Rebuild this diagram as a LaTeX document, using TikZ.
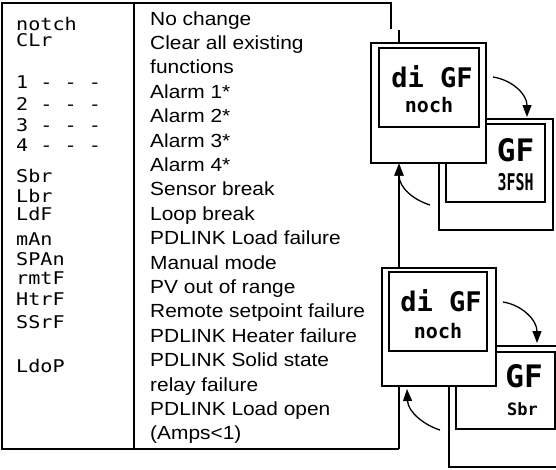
\documentclass[tikz,border=0pt]{standalone}
\usepackage{fontspec}
\setmainfont{Liberation Sans}
\newfontfamily\segfont{DejaVu Sans Mono}
\usetikzlibrary{arrows.meta}

\tikzset{
  frame/.style={line width=1.8pt},
  link/.style={line width=1.8pt},
  curvearrow/.style={line width=1.3pt},
  devbox/.style={draw, line width=1.2pt, fill=white, inner sep=0pt},
  screen/.style={draw, line width=1.2pt, inner sep=0pt},
  descr/.style={anchor=base west, inner sep=0pt, xscale=1.1, font=\fontsize{19}{22}\selectfont},
  code/.style={anchor=base west, inner sep=0pt, xscale=1.15, font=\segfont\fontsize{17.5}{20}\selectfont},
  segbig/.style={anchor=base, inner sep=0pt, font=\segfont\bfseries\fontsize{27}{30}\selectfont},
  segsub/.style={anchor=base, inner sep=0pt, font=\segfont\bfseries\fontsize{20}{24}\selectfont},
}

\begin{document}
\begin{tikzpicture}[x=1pt, y=-1pt, >={Triangle[length=12pt,width=9pt]}]
    \useasboundingbox (0,0) rectangle (556,469);
    \clip (0,0) rectangle (556,469);

    % Tabla de funciones
    \coordinate (topR) at (391,29);
    \coordinate (botR) at (399,449);
    \draw[frame] (topR) -- (391,3) -- (2,3) -- (2,449) -- (botR);
    \draw[frame] (134,3) -- (134,449);

    % Codigos del display
    \foreach \yy/\txt [count=\i] in {30/notch, 46/CLr, 88/1 - - -, 110/2 - - -, 131/3 - - -, 151/4 - - -,
        182/Sbr, 202/Lbr, 220/LdF, 245/mAn, 265/SPAn, 284/rmtF, 305/HtrF, 328/SSrF, 372/LdoP}
        \node[code] (c\i) at (16,\yy) {\txt};

    % Descripciones
    \foreach \txt [count=\i] in {No change, Clear all existing, functions, Alarm 1*, Alarm 2*, Alarm 3*,
        Alarm 4*, Sensor break, Loop break, PDLINK Load failure, Manual mode, PV out of range,
        Remote setpoint failure, PDLINK Heater failure, PDLINK Solid state, relay failure,
        PDLINK Load open, {(Amps<1)}}
        \node[descr] (d\i) at (150,{25+(\i-1)*24.4}) {\txt};

    % Display de fondo (arriba)
    \node[devbox, minimum width=114pt, minimum height=111pt] (devAb) at (496,174.5) {};
    \node[screen, minimum width=99pt, minimum height=78pt] (scrAb) at (495.5,163) {};
    \node[segbig, font=\segfont\bfseries\fontsize{31}{34}\selectfont] (tAb1) at ([xshift=20pt,yshift=2pt]scrAb.center) {GF};
    \node[segsub, font=\segfont\bfseries\fontsize{23}{26}\selectfont, xscale=0.65] (tAb2) at ([xshift=20pt,yshift=-27pt]scrAb.center) {3FSH};

    % Display frontal (arriba)
    \node[devbox, minimum width=115pt, minimum height=120pt] (devA) at (428.5,103) {};
    \node[screen, minimum width=100pt, minimum height=79pt] (scrA) at (429,87.5) {};
    \node[segbig] (tA1) at ([xshift=3pt]scrA.center) {di GF};
    \node[segsub] (tA2) at ([yshift=-25pt]scrA.center) {noch};

    % Display de fondo (abajo)
    \node[devbox, minimum width=116pt, minimum height=121pt] (devBb) at (507,406.5) {};
    \node[screen, minimum width=99pt, minimum height=77pt] (scrBb) at (505.5,390.5) {};
    \node[segbig, font=\segfont\bfseries\fontsize{31}{34}\selectfont] (tBb1) at ([xshift=18.5pt,yshift=3.5pt]scrBb.center) {GF};
    \node[segsub, font=\segfont\bfseries\fontsize{17}{20}\selectfont] (tBb2) at ([xshift=17pt,yshift=-24.5pt]scrBb.center) {Sbr};

    % Display frontal (abajo)
    \node[devbox, minimum width=114pt, minimum height=118pt] (devB) at (439,327) {};
    \node[screen, minimum width=98pt, minimum height=79pt] (scrB) at (438,311.5) {};
    \node[segbig] (tB1) at ([xshift=3pt]scrB.center) {di GF};
    \node[segsub] (tB2) at ([yshift=-26.5pt]scrB.center) {noch};

    % Conexiones
    \coordinate (linkA) at (399,30);
    \draw[link] (linkA) -- (linkA |- devA.north);
    \draw[link, ->] (linkA |- devB.north) -- (linkA |- devA.south);
    \draw[link] (botR) -- (botR |- devB.south);

    % Flechas curvas
    \coordinate (fA1) at (493,77);
    \coordinate (fA2) at (527,117);
    \coordinate (gA1) at (430,205);
    \coordinate (fB1) at (503,302);
    \coordinate (fB2) at (537,343);
    \coordinate (gB1) at (440,430);
    \coordinate (gB2) at (407,389);
    \draw[curvearrow, ->] (fA1) .. controls (512,80) and (527,94) .. (fA2);
    \draw[curvearrow, ->] (gA1) .. controls (414,200) and (399,188) .. (linkA |- devA.south);
    \draw[curvearrow, ->] (fB1) .. controls (522,305) and (537,320) .. (fB2);
    \draw[curvearrow, ->] (gB1) .. controls (424,425) and (408,412) .. (gB2);
\end{tikzpicture}
\end{document}
